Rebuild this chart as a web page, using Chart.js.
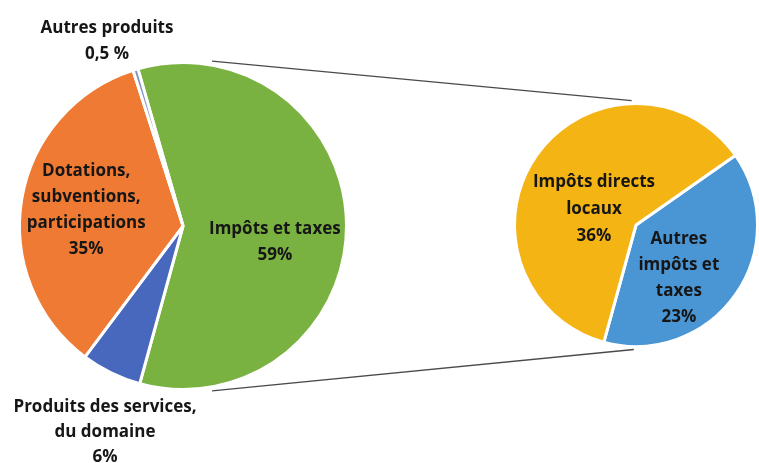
<!DOCTYPE html>
<html>
<head>
<meta charset="utf-8">
<script src="https://cdn.jsdelivr.net/npm/chart.js@4/dist/chart.umd.min.js"></script>
<style>
  html, body { margin: 0; padding: 0; background: #fff; }
  #wrap { position: relative; width: 759px; height: 463px; }
  #wrap canvas { position: absolute; left: 0; top: 0; }
</style>
</head>
<body>
<div id="wrap">
  <canvas id="mainPie" width="759" height="463"></canvas>
  <canvas id="subPie" width="759" height="463"></canvas>
</div>
<script>
// main pie (recettes)
var mainLabels = [
  ['Impôts et taxes', '59%'],
  ['Produits des services,', 'du domaine', '6%'],
  ['Dotations,', 'subventions,', 'participations', '35%'],
  ['Autres produits', '0,5 %']
];
var mainValues = [59, 6, 35, 0.5];
var mainColors = ['#7ab241', '#4868bd', '#ee7a33', '#7f95bd'];

// zoom pie: split of "Impôts et taxes"
var subLabels = [
  ['Autres', 'impôts et', 'taxes', '23%'],
  ['Impôts directs', 'locaux', '36%']
];
var subValues = [23, 36];
var subColors = ['#4a95d4', '#f4b414'];

var FONT = 'bold 17px "Open Sans", sans-serif';
var LINE_H = 26;

// where to put each label: fraction of radius + angle nudge (deg)
var mainLabelPos = [
  { r: 0.57, da: 10, lh: 26 },
  { r: 1.35, da: -5.4, lh: 25 },
  { r: 0.6, da: 0, lh: 26 },
  { r: 1.22, da: -5.5, lh: 26 }
];
var subLabelPos = [
  { r: 0.56, da: 15.8, lh: 26 },
  { r: 0.37, da: -14.3, lh: 27 }
];

function drawLabels(chart, labels, pos) {
  var ctx = chart.ctx;
  var arcs = chart.getDatasetMeta(0).data;
  ctx.save();
  ctx.font = FONT;
  ctx.fillStyle = '#161616';
  ctx.textAlign = 'center';
  ctx.textBaseline = 'middle';
  arcs.forEach(function (arc, i) {
    var mid = (arc.startAngle + arc.endAngle) / 2 + pos[i].da * Math.PI / 180;
    var rr = arc.outerRadius * pos[i].r;
    var cx = arc.x + Math.cos(mid) * rr;
    var cy = arc.y + Math.sin(mid) * rr;
    var lines = labels[i];
    var lh = pos[i].lh || LINE_H;
    var y0 = cy - (lines.length - 1) * lh / 2;
    lines.forEach(function (t, k) { ctx.fillText(t, cx, y0 + k * lh); });
  });
  ctx.restore();
}

var subChart = new Chart(document.getElementById('subPie'), {
  type: 'pie',
  data: {
    labels: subLabels.map(function (l) { return l.slice(0, -1).join(' '); }),
    datasets: [{
      data: subValues,
      backgroundColor: subColors,
      borderColor: '#fff',
      borderWidth: 3
    }]
  },
  options: {
    responsive: false,
    animation: false,
    rotation: 55,
    layout: { padding: { left: 513, right: 0, top: 99, bottom: 112 } },
    plugins: { legend: { display: false }, tooltip: { enabled: false } }
  },
  plugins: [{
    id: 'subLabels',
    afterDraw: function (chart) { drawLabels(chart, subLabels, subLabelPos); }
  }]
});

var connectors = {
  id: 'connectors',
  beforeDatasetsDraw: function (chart) {
    var big = chart.getDatasetMeta(0).data[0];
    var small = subChart.getDatasetMeta(0).data[0];
    if (!big || !small) return;
    var ctx = chart.ctx;
    var R = big.outerRadius + 4, r = small.outerRadius + 3;
    var a1 = -80 * Math.PI / 180, a2 = 80 * Math.PI / 180;
    var b1 = -92 * Math.PI / 180, b2 = 91 * Math.PI / 180;
    ctx.save();
    ctx.strokeStyle = '#4a4a4a';
    ctx.lineWidth = 1.3;
    ctx.beginPath();
    ctx.moveTo(big.x + Math.cos(a1) * R, big.y + Math.sin(a1) * R);
    ctx.lineTo(small.x + Math.cos(b1) * r, small.y + Math.sin(b1) * r);
    ctx.moveTo(big.x + Math.cos(a2) * R, big.y + Math.sin(a2) * R);
    ctx.lineTo(small.x + Math.cos(b2) * r, small.y + Math.sin(b2) * r);
    ctx.stroke();
    ctx.restore();
  }
};

var mainChart = new Chart(document.getElementById('mainPie'), {
  type: 'pie',
  data: {
    labels: mainLabels.map(function (l) { return l.slice(0, -1).join(' '); }),
    datasets: [{
      data: mainValues,
      backgroundColor: mainColors,
      borderColor: '#fff',
      borderWidth: 3
    }]
  },
  options: {
    responsive: false,
    animation: false,
    rotation: -16,
    layout: { padding: { left: 18, right: 411, top: 61, bottom: 72 } },
    plugins: { legend: { display: false }, tooltip: { enabled: false } }
  },
  plugins: [connectors, {
    id: 'mainLabels',
    afterDraw: function (chart) { drawLabels(chart, mainLabels, mainLabelPos); }
  }]
});
</script>
</body>
</html>
